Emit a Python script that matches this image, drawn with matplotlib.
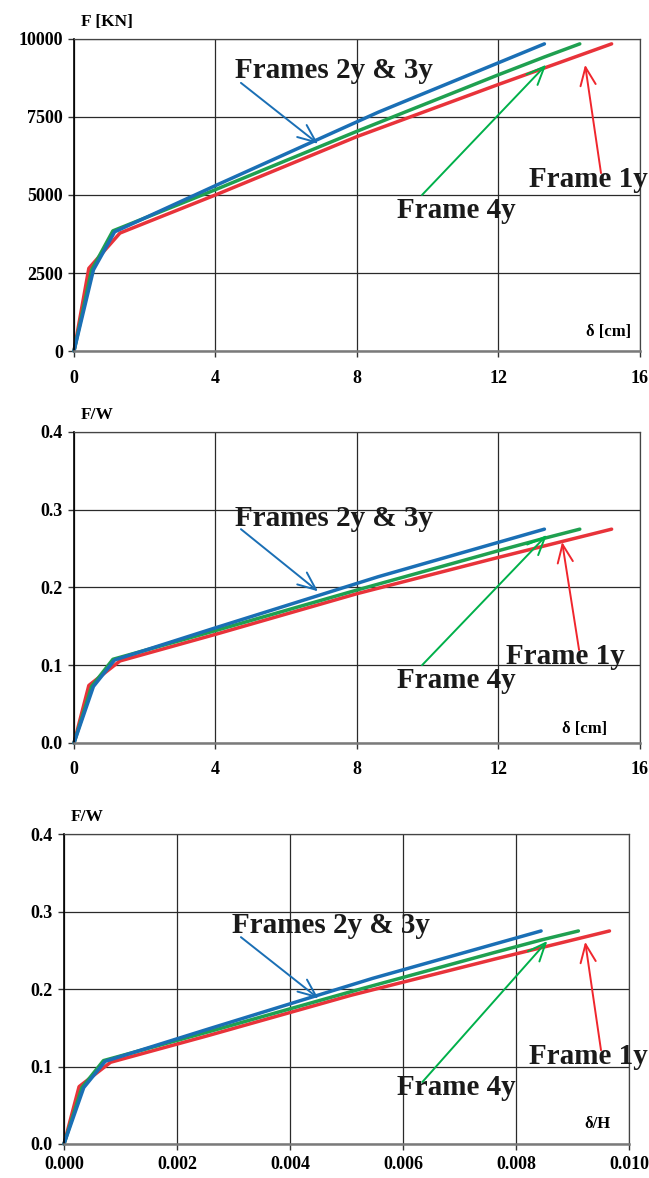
import matplotlib
matplotlib.use("Agg")
import matplotlib.pyplot as plt

# --- données ---
# panneau 1 : F [KN] en fonction de delta [cm]
d1_red = [0.0, 0.42, 1.3, 4.0, 8.0, 12.0, 15.2]
f1_red = [0, 2650, 3780, 5000, 6870, 8540, 9840]
d1_blue = [0.0, 0.55, 1.15, 4.0, 8.6, 13.3]
f1_blue = [0, 2600, 3820, 5300, 7650, 9840]
d1_green = [0.0, 0.5, 1.1, 4.0, 8.0, 12.0, 13.3, 14.3]
f1_green = [0, 2600, 3850, 5170, 7040, 8850, 9420, 9840]

# panneau 2 : F/W en fonction de delta [cm]
d2_red = [0.0, 0.42, 1.3, 4.0, 8.0, 12.0, 15.2]
fw2_red = [0.0, 0.074, 0.1055, 0.1397, 0.192, 0.2387, 0.275]
d2_blue = [0.0, 0.55, 1.15, 4.0, 8.6, 13.3]
fw2_blue = [0.0, 0.0727, 0.1068, 0.1481, 0.2138, 0.275]
d2_green = [0.0, 0.5, 1.1, 4.0, 8.0, 12.0, 13.3, 14.3]
fw2_green = [0.0, 0.0727, 0.1076, 0.1445, 0.1967, 0.2473, 0.2633, 0.275]

# panneau 3 : F/W en fonction de delta/H
r3_red = [0.0, 0.000267, 0.000825, 0.00254, 0.00508, 0.00762, 0.00965]
fw3_red = [0.0, 0.074, 0.1055, 0.1397, 0.192, 0.2387, 0.275]
r3_blue = [0.0, 0.000349, 0.00073, 0.00254, 0.00546, 0.00844]
fw3_blue = [0.0, 0.0727, 0.1068, 0.1481, 0.2138, 0.275]
r3_green = [0.0, 0.000317, 0.000698, 0.00254, 0.00508, 0.00762, 0.00844, 0.0091]
fw3_green = [0.0, 0.0727, 0.1076, 0.1445, 0.1967, 0.2473, 0.2633, 0.275]

RED, BLUE, GREEN = "#e8333a", "#1a6fb5", "#1fa050"
ARROW_GREEN = "#00b04a"
SERIF = "Liberation Serif"

panels = [
    dict(rect=[0.114, 0.702, 0.872, 0.265], xpad=10,
         series=[(d1_red, f1_red, RED), (d1_green, f1_green, GREEN), (d1_blue, f1_blue, BLUE)],
         xlim=(0, 16), xticks=[0, 4, 8, 12, 16], xfmt="{:g}",
         ylim=(0, 10000), yticks=[0, 2500, 5000, 7500, 10000], yfmt="{:g}",
         ylabel="F [KN]", xlabel="δ [cm]", xlabel_pos=(15.75, 620),
         frames23=(4.55, 9000), arr23=((4.72, 8590), (6.9, 6640)),
         frame4=(9.13, 4490), arr4=((9.84, 5000), (13.35, 9170)),
         frame1=(12.86, 5510), arr1=((14.9, 5700), (14.45, 9170))),
    dict(rect=[0.114, 0.3693, 0.872, 0.264], xpad=9,
         series=[(d2_red, fw2_red, RED), (d2_green, fw2_green, GREEN), (d2_blue, fw2_blue, BLUE)],
         xlim=(0, 16), xticks=[0, 4, 8, 12, 16], xfmt="{:g}",
         ylim=(0, 0.4), yticks=[0, 0.1, 0.2, 0.3, 0.4], yfmt="{:.1f}",
         ylabel="F/W", xlabel="δ [cm]", xlabel_pos=(15.07, 0.018),
         frames23=(4.55, 0.289), arr23=((4.72, 0.275), (6.9, 0.195)),
         frame4=(9.13, 0.0797), arr4=((9.84, 0.100), (13.37, 0.2675)),
         frame1=(12.2, 0.1106), arr1=((14.28, 0.1196), (13.8, 0.2585))),
    dict(rect=[0.0986, 0.0289, 0.871, 0.263], xpad=5,
         series=[(r3_red, fw3_red, RED), (r3_green, fw3_green, GREEN), (r3_blue, fw3_blue, BLUE)],
         xlim=(0, 0.010), xticks=[0, 0.002, 0.004, 0.006, 0.008, 0.010], xfmt="{:.3f}",
         ylim=(0, 0.4), yticks=[0, 0.1, 0.2, 0.3, 0.4], yfmt="{:.1f}",
         ylabel="F/W", xlabel="δ/H", xlabel_pos=(0.00966, 0.026),
         frames23=(0.00297, 0.2826), arr23=((0.00313, 0.267), (0.0045, 0.188)),
         frame4=(0.00589, 0.0735), arr4=((0.00634, 0.080), (0.00855, 0.262)),
         frame1=(0.00823, 0.1135), arr1=((0.0095, 0.121), (0.00922, 0.261))),
]

fig = plt.figure(figsize=(6.49, 11.78), dpi=100)

for p in panels:
    ax = fig.add_axes(p["rect"])
    ax.set_xlim(*p["xlim"]); ax.set_ylim(*p["ylim"])
    ax.set_xticks(p["xticks"]); ax.set_yticks(p["yticks"])
    ax.set_xticklabels([p["xfmt"].format(v) for v in p["xticks"]])
    ax.set_yticklabels([p["yfmt"].format(v) for v in p["yticks"]])
    for lab in ax.get_xticklabels() + ax.get_yticklabels():
        lab.set_fontfamily(SERIF); lab.set_fontweight("bold"); lab.set_fontsize(13)
    ax.tick_params(direction="out", length=4, width=1, color="#333")
    ax.tick_params(axis="x", pad=p["xpad"])
    ax.tick_params(axis="y", pad=4)
    ax.grid(True, color="#2a2a2a", lw=0.9)
    ax.set_axisbelow(True)
    for side in ("top", "right"):
        ax.spines[side].set_color("#444"); ax.spines[side].set_linewidth(0.9)
    ax.spines["left"].set_color("black"); ax.spines["left"].set_linewidth(1.2)
    ax.spines["bottom"].set_color("#7a7a7a"); ax.spines["bottom"].set_linewidth(1.8)

    for xs, ys, c in p["series"]:
        ax.plot(xs, ys, color=c, lw=2.5, solid_capstyle="round", clip_on=False)

    # libellés des axes (dans / au-dessus du cadre)
    ax.text(0.012, 1.03, p["ylabel"], transform=ax.transAxes, family=SERIF,
            weight="bold", fontsize=12.5, ha="left", va="bottom")
    ax.text(*p["xlabel_pos"], p["xlabel"], family=SERIF, weight="bold",
            fontsize=12, ha="right", va="center")

    # annotations
    txt = dict(family=SERIF, weight="bold", fontsize=21, va="center", ha="left",
               color="#1a1a1a", clip_on=False)
    ax.text(*p["frames23"], "Frames 2y & 3y", **txt)
    ax.text(*p["frame4"], "Frame 4y", **txt)
    ax.text(*p["frame1"], "Frame 1y", **txt)
    for (xy0, xy1), c in ((p["arr23"], "#1a6fb5"), (p["arr4"], ARROW_GREEN), (p["arr1"], "#f0262d")):
        ax.annotate("", xy=xy1, xytext=xy0,
                    arrowprops=dict(arrowstyle="->,head_length=1.3,head_width=0.55",
                                    color=c, lw=1.4, shrinkA=0, shrinkB=0))

fig.savefig("out.png", dpi=100)
